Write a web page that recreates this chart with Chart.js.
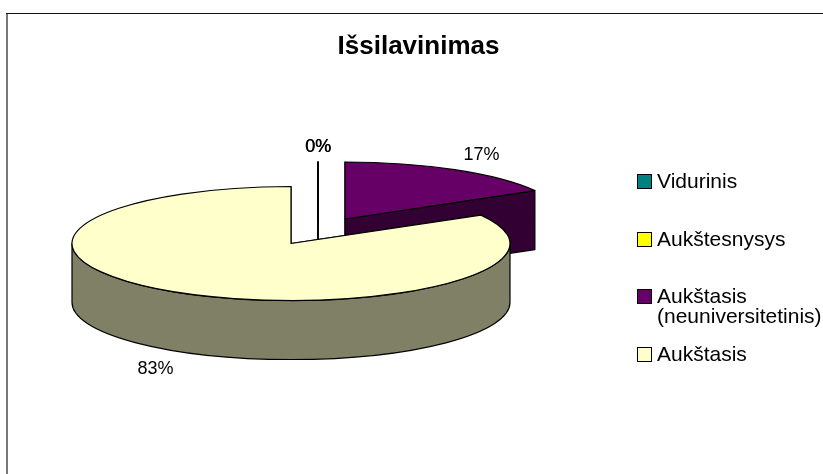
<!DOCTYPE html>
<html><head><meta charset="utf-8">
<style>html,body{margin:0;padding:0;background:#fff}canvas{display:block}</style>
<script src="https://cdn.jsdelivr.net/npm/chart.js@4/dist/chart.umd.js"></script>
</head><body><canvas id="c" width="823" height="474"></canvas>
<script>
const titleText = 'Išsilavinimas';
const categories = ['Vidurinis', 'Aukštesnysys', ['Aukštasis', '(neuniversitetinis)'], 'Aukštasis'];
const shares = [0, 0, 16.7, 83.3];
const topColors = ['#008080', '#ffff00', '#660066', '#ffffcc'];
const sideColors = ['#004040', '#808000', '#330033', '#808066'];

const FONT = '"Liberation Sans", Arial, sans-serif';
const PIE = {cx: 291, cy: 243.5, rx: 219, ry: 57, depth: 59};
function explode(value, i) {
  if (i === 3) return {x: 0, y: 0};
  return value > 0 ? {x: 54, y: -24.5} : {x: 27, y: -24.5};
}

const ArcEl = Chart.registry.getElement('arc');
ArcEl.prototype.draw = function (ctx) {
  const i = this.$context ? this.$context.dataIndex : 0;
  const e = explode(shares[i], i);
  const ox = PIE.cx + e.x, oy = PIE.cy + e.y;
  const a = this.startAngle, b = this.endAngle, d = PIE.depth;
  const px = t => ox + PIE.rx * Math.cos(t), py = t => oy + PIE.ry * Math.sin(t);
  ctx.save();
  ctx.lineWidth = 1.2; ctx.strokeStyle = '#000'; ctx.lineJoin = 'round';
  // cut faces
  ctx.fillStyle = sideColors[i];
  [a, b].forEach(t => {
    ctx.beginPath();
    ctx.moveTo(ox, oy); ctx.lineTo(px(t), py(t));
    ctx.lineTo(px(t), py(t) + d); ctx.lineTo(ox, oy + d); ctx.closePath();
    ctx.fill(); ctx.stroke();
  });
  // outer wall (front half only)
  const r0 = Math.max(a, 0), r1 = Math.min(b, Math.PI);
  if (r1 > r0) {
    ctx.beginPath();
    ctx.ellipse(ox, oy, PIE.rx, PIE.ry, 0, r0, r1);
    ctx.ellipse(ox, oy + d, PIE.rx, PIE.ry, 0, r1, r0, true);
    ctx.closePath(); ctx.fill(); ctx.stroke();
  }
  // top face
  ctx.fillStyle = topColors[i];
  ctx.beginPath();
  ctx.moveTo(ox, oy);
  ctx.ellipse(ox, oy, PIE.rx, PIE.ry, 0, a, b);
  ctx.closePath(); ctx.fill(); ctx.stroke();
  ctx.restore();
};

const frameAndText = {
  id: 'frameAndText',
  beforeDraw(chart) {
    const c = chart.ctx;
    c.save();
    c.fillStyle = '#fff'; c.fillRect(0, 0, chart.width, chart.height);
    c.fillStyle = '#777'; c.fillRect(6, 13, 2, chart.height - 13);
    c.fillStyle = '#111'; c.fillRect(6, 13, chart.width - 6, 1);
    c.restore();
  },
  afterDraw(chart) {
    const c = chart.ctx;
    c.save();
    c.fillStyle = '#000'; c.textBaseline = 'alphabetic';
    // value labels
    const total = shares.reduce((s, v) => s + v, 0);
    const pct = v => Math.round(v / total * 100) + '%';
    c.font = '18px ' + FONT; c.textAlign = 'center';
    [[318, 152], [318.4, 152], [481.5, 160], [155.5, 374]].forEach((p, k) => {
      c.fillText(pct(shares[k]), p[0], p[1]);
    });
    // legend
    const rows = [188, 246, 302.5, 361];
    c.font = '21px ' + FONT; c.textAlign = 'left';
    categories.forEach((label, i) => {
      const top = Math.round(rows[i]) - 13.5;
      c.fillStyle = topColors[i];
      c.fillRect(637.5, top, 14, 14);
      c.strokeStyle = '#000'; c.lineWidth = 1;
      c.strokeRect(637.5, top, 14, 14);
      c.fillStyle = '#000';
      [].concat(label).forEach((line, k) => c.fillText(line, 657, rows[i] + k * 20));
    });
    c.restore();
  }
};

new Chart(document.getElementById('c'), {
  type: 'pie',
  data: {
    labels: categories,
    datasets: [{data: shares, backgroundColor: topColors, borderWidth: 0}]
  },
  options: {
    responsive: false,
    animation: false,
    layout: {padding: {left: 14, top: 14}},
    plugins: {
      legend: {display: false},
      tooltip: {enabled: false},
      title: {
        display: true, text: titleText, color: '#000',
        font: {family: FONT, size: 26, weight: 'bold'},
        padding: {top: 17, bottom: 10}
      }
    }
  },
  plugins: [frameAndText]
});
</script></body></html>
